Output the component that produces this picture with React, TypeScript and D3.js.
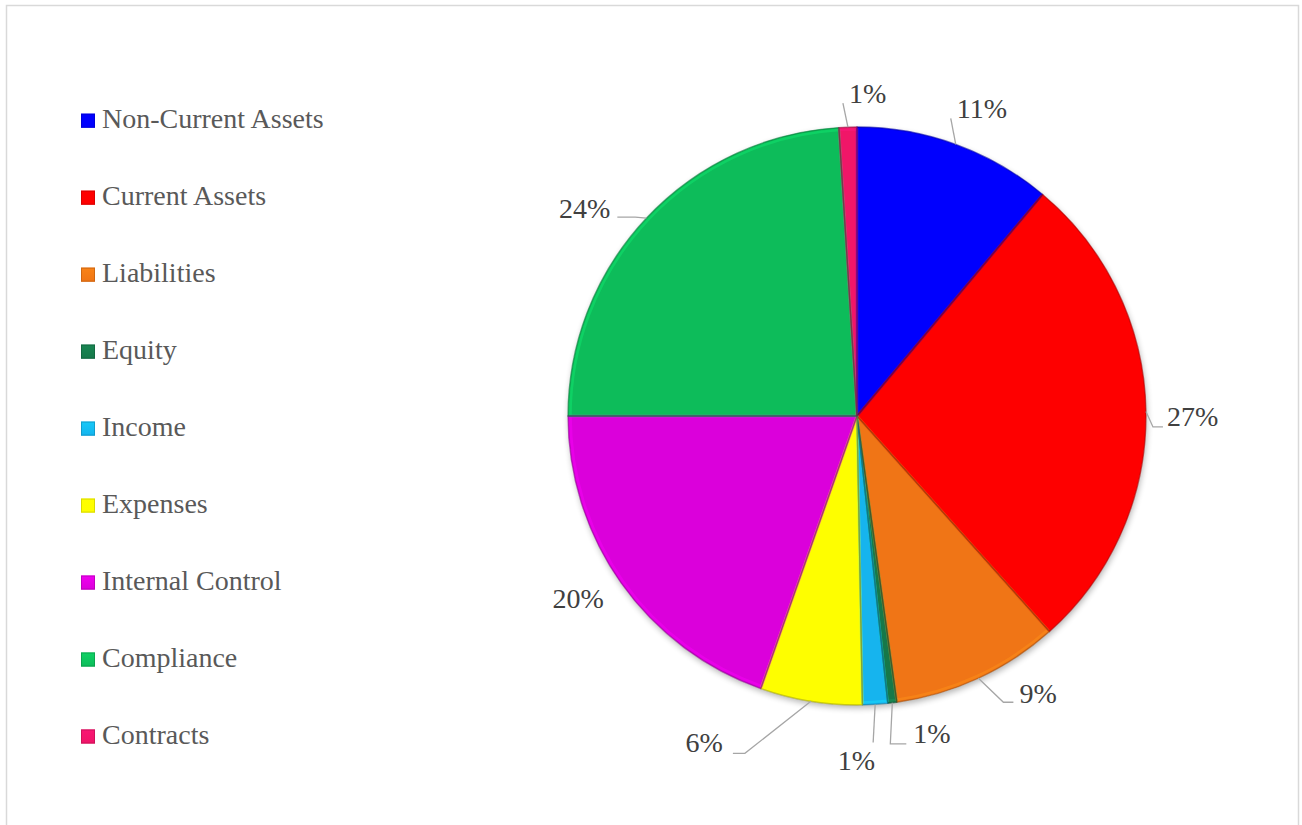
import React from "react";
import * as d3 from "d3";

const categories = [
  "Non-Current Assets",
  "Current Assets",
  "Liabilities",
  "Equity",
  "Income",
  "Expenses",
  "Internal Control",
  "Compliance",
  "Contracts",
];
const values = [11.1, 27.3, 9.4, 0.5, 1.4, 5.7, 19.6, 24.0, 1.0];
const colors = [
  "#0000FE",
  "#FE0000",
  "#F07514",
  "#16784A",
  "#14B4EE",
  "#FEFE00",
  "#DB00DB",
  "#0DBC5A",
  "#F01468",
];

// label layout relative to the arc edge point at each slice's mid-angle
const labelLayout = [
  { dx: 1, dy: -26, anchor: "start", leader: [[-5, -26]] },
  { dx: 21, dy: 15, anchor: "start", leader: [[7, 15.5], [17, 15.5]] },
  { dx: 41, dy: 25, anchor: "start", leader: [[25, 24], [35, 24]] },
  { dx: 21, dy: 40, anchor: "start", leader: [[-2, 41], [14, 41]] },
  { dx: 0, dy: 66, anchor: "end", leader: [[-2, 38]] },
  { dx: -88, dy: 51, anchor: "end", leader: [[-66, 52], [-78, 52]] },
  { dx: -43, dy: 25, anchor: "middle", leader: [] as number[][] },
  { dx: -36, dy: 0, anchor: "end", leader: [[-11, -1], [-29, -1]] },
  { dx: 1, dy: -24, anchor: "start", leader: [[-5, -24]] },
];

const W = 1302;
const H = 825;
const cx = 857;
const cy = 416;
const R = 289;
const FONT =
  '"Liberation Serif", "Times New Roman", Times, Tinos, "Nimbus Roman", "Noto Serif", "DejaVu Serif", FreeSerif, serif';

export default function App() {
  const total = d3.sum(values);
  const pie = d3
    .pie<number>()
    .sort(null)
    .value((d) => d)
    .startAngle(0)
    .endAngle(2 * Math.PI);
  const arcs = pie(values);
  const arc = d3.arc<d3.PieArcDatum<number>>().innerRadius(0).outerRadius(R);
  const innerArc = d3
    .arc<d3.PieArcDatum<number>>()
    .innerRadius(0)
    .outerRadius(R - 2.5);

  const legendY = d3
    .scalePoint<string>()
    .domain(categories)
    .range([127.7, 743.5]);

  return (
    <svg
      width={W}
      height={H}
      style={{ position: "absolute", left: 0, top: 0, background: "#fff" }}
    >
      <defs>
        <filter id="shadow" x="-10%" y="-10%" width="120%" height="120%">
          <feGaussianBlur in="SourceAlpha" stdDeviation="3" />
          <feOffset dx="1" dy="3" result="ob" />
          <feComponentTransfer>
            <feFuncA type="linear" slope="0.3" />
          </feComponentTransfer>
          <feMerge>
            <feMergeNode />
            <feMergeNode in="SourceGraphic" />
          </feMerge>
        </filter>
        {colors.map((c, i) => (
          <linearGradient key={i} id={`lg${i}`} x1="0" y1="0" x2="0" y2="1">
            <stop offset="0" stopColor={d3.color(c)!.brighter(0.5).formatHex()} />
            <stop offset="1" stopColor={c} />
          </linearGradient>
        ))}
      </defs>
      <rect
        x={6.5}
        y={5.5}
        width={1292}
        height={840}
        fill="#fff"
        stroke="#D9D9D9"
        strokeWidth={1.5}
      />
      {/* Legend */}
      {categories.map((c, i) => {
        const y = legendY(c)!;
        return (
          <g key={c}>
            <rect x={81} y={y - 14} width={14} height={14} fill={colors[i]} />
            <rect
              x={81}
              y={y - 14}
              width={14}
              height={14}
              fill={`url(#lg${i})`}
              opacity={0.6}
            />
            <rect
              x={81.5}
              y={y - 13.5}
              width={13}
              height={13}
              fill="none"
              stroke={d3.color(colors[i])!.darker(0.8).formatHex()}
              strokeOpacity={0.6}
            />
            <text
              x={102}
              y={y}
              fontSize={28}
              fill="#595959"
              style={{ fontFamily: FONT }}
            >
              {c}
            </text>
          </g>
        );
      })}
      {/* Pie */}
      <g transform={`translate(${cx},${cy})`} filter="url(#shadow)">
        {arcs.map((a, i) => (
          <path key={i} d={arc(a)!} fill={colors[i]} />
        ))}
      </g>
      <g transform={`translate(${cx},${cy})`}>
        {arcs.map((a, i) => (
          <path
            key={i}
            d={innerArc(a)!}
            fill="none"
            stroke={d3.color(colors[i])!.brighter(0.7).formatHex()}
            strokeOpacity={0.4}
            strokeWidth={2.5}
          />
        ))}
        {arcs.map((a, i) => (
          <path
            key={"o" + i}
            d={arc(a)!}
            fill="none"
            stroke={d3.color(colors[i])!.darker(1.2).formatHex()}
            strokeOpacity={0.6}
            strokeWidth={1.3}
          />
        ))}
      </g>
      {/* Labels */}
      {arcs.map((a, i) => {
        const mid = (a.startAngle + a.endAngle) / 2;
        const ex = cx + R * Math.sin(mid);
        const ey = cy - R * Math.cos(mid);
        const L = labelLayout[i];
        const pts = [[ex, ey], ...L.leader.map(([dx, dy]) => [ex + dx, ey + dy])];
        const pct = Math.round((values[i] / total) * 100) + "%";
        return (
          <g key={"l" + i}>
            {pts.length > 1 && (
              <polyline
                points={pts.map((p) => p.join(",")).join(" ")}
                fill="none"
                stroke="#A6A6A6"
                strokeWidth={1.3}
              />
            )}
            <text
              x={ex + L.dx}
              y={ey + L.dy}
              textAnchor={L.anchor as any}
              fontSize={28}
              fill="#404040"
              style={{ fontFamily: FONT }}
            >
              {pct}
            </text>
          </g>
        );
      })}
    </svg>
  );
}
